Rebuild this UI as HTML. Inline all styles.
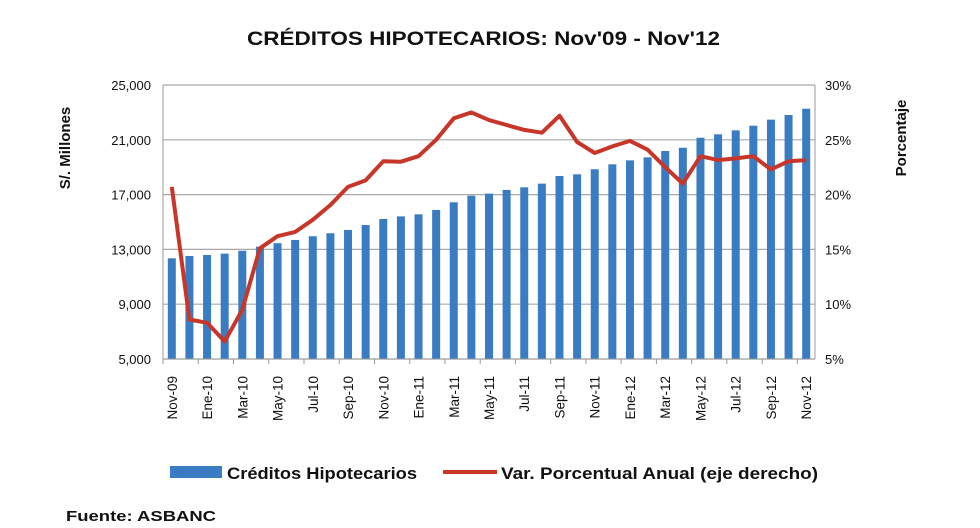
<!DOCTYPE html>
<html><head><meta charset="utf-8"><style>
body{margin:0;background:#fff;}
svg{display:block;font-family:"Liberation Sans",sans-serif;}
</style></head><body>
<svg id="chart" width="980" height="528">
<text x="247" y="45" textLength="473" lengthAdjust="spacingAndGlyphs" font-size="19" font-weight="bold" fill="#111">CRÉDITOS HIPOTECARIOS: Nov'09 - Nov'12</text>
<g id="grid"></g><g id="bars"></g><g id="line"></g><g id="axes"></g>
<text transform="translate(70,148) rotate(-90)" text-anchor="middle" font-size="15" font-weight="bold" fill="#111">S/. Millones</text>
<text transform="translate(906,138) rotate(-90)" text-anchor="middle" font-size="15" font-weight="bold" fill="#111">Porcentaje</text>
<g>
<rect x="170" y="466" width="52" height="12" fill="#3a7cc2"/>
<text x="227" y="479" textLength="190" lengthAdjust="spacingAndGlyphs" font-size="17" font-weight="bold" fill="#111">Créditos Hipotecarios</text>
<line x1="443" y1="472" x2="497" y2="472" stroke="#c8362a" stroke-width="4"/>
<text x="501" y="479" textLength="317" lengthAdjust="spacingAndGlyphs" font-size="17" font-weight="bold" fill="#111">Var. Porcentual Anual (eje derecho)</text>
</g>
<text x="66" y="521" textLength="150" lengthAdjust="spacingAndGlyphs" font-size="15" font-weight="bold" fill="#111">Fuente:  ASBANC</text>
</svg>
<script>
const months=["Nov-09","Dic-09","Ene-10","Feb-10","Mar-10","Abr-10","May-10","Jun-10","Jul-10","Ago-10","Sep-10","Oct-10","Nov-10","Dic-10","Ene-11","Feb-11","Mar-11","Abr-11","May-11","Jun-11","Jul-11","Ago-11","Sep-11","Oct-11","Nov-11","Dic-11","Ene-12","Feb-12","Mar-12","Abr-12","May-12","Jun-12","Jul-12","Ago-12","Sep-12","Oct-12","Nov-12"];
const credits=[12350,12520,12590,12690,12900,13200,13450,13690,13960,14180,14420,14780,15220,15410,15560,15880,16440,16920,17070,17340,17530,17800,18360,18480,18850,19210,19500,19720,20180,20420,21150,21400,21690,22030,22470,22810,23270];
const growth=[20.7,8.6,8.3,6.6,9.5,15.1,16.2,16.6,17.7,19.05,20.7,21.3,23.05,23.0,23.5,25.0,26.96,27.5,26.8,26.35,25.9,25.65,27.2,24.8,23.8,24.4,24.9,24.1,22.5,21.0,23.5,23.15,23.3,23.5,22.3,23.05,23.15];
const leftTicks=[5000,9000,13000,17000,21000,25000];
const leftLabels=["5,000","9,000","13,000","17,000","21,000","25,000"];
const rightTicks=[5,10,15,20,25,30];
const rightLabels=["5%","10%","15%","20%","25%","30%"];
const NS="http://www.w3.org/2000/svg";
const X0=163,X1=815,Y0=359,Y1=85;
const step=(X1-X0)/months.length;
function xc(i){return X0+step*(i+0.5);}
function yl(v){return Y0-(v-5000)/20000*(Y0-Y1);}
function yr(v){return Y0-(v-5)/25*(Y0-Y1);}
function mk(tag,attrs,parent){const e=document.createElementNS(NS,tag);for(const k in attrs)e.setAttribute(k,attrs[k]);parent.appendChild(e);return e;}
const grid=document.getElementById('grid'),bars=document.getElementById('bars'),line=document.getElementById('line'),axes=document.getElementById('axes');
leftTicks.forEach((t,i)=>{
  const g=mk('line',{x1:X0,x2:X1,y1:yl(t),y2:yl(t),stroke:'#a8a8a8','stroke-width':1.2},grid);
  
  
  const tx=mk('text',{x:X0-12,y:yl(t)+5,'text-anchor':'end','font-size':13,fill:'#111'},axes);
  tx.textContent=leftLabels[i];
  
  
});
rightTicks.forEach((t,i)=>{
  const tx=mk('text',{x:X1+10,y:yr(t)+5,'text-anchor':'start','font-size':13,fill:'#111'},axes);
  tx.textContent=rightLabels[i];
  
  
});
const la=mk('line',{x1:X0,x2:X0,y1:Y1,y2:Y0,stroke:'#999'},axes);


const ra=mk('line',{x1:X1,x2:X1,y1:Y1,y2:Y0,stroke:'#999'},axes);


const ba=mk('line',{x1:X0,x2:X1,y1:Y0,y2:Y0,stroke:'#999'},axes);


credits.forEach((v,i)=>{
  const r=mk('rect',{x:xc(i)-4,y:yl(v),width:8,height:Y0-yl(v),fill:'#3a7cc2'},bars);
  
  
});
months.forEach((m,i)=>{
  if(i%2===0){
    const tk=mk('line',{x1:X0+step*i,x2:X0+step*i,y1:Y0,y2:Y0+5,stroke:'#999'},axes);
    
    
    const tx=mk('text',{'text-anchor':'end','font-size':13.5,fill:'#111',transform:'translate('+(xc(i)+5)+','+(Y0+17)+') rotate(-90)'},axes);
    tx.textContent=m;
    
    
  }
});
const pts=growth.map((v,i)=>xc(i).toFixed(1)+','+yr(v).toFixed(1)).join(' ');
const pl=mk('polyline',{points:pts,fill:'none',stroke:'#c8362a','stroke-width':4,'stroke-linejoin':'round'},line);


</script>
</body></html>
